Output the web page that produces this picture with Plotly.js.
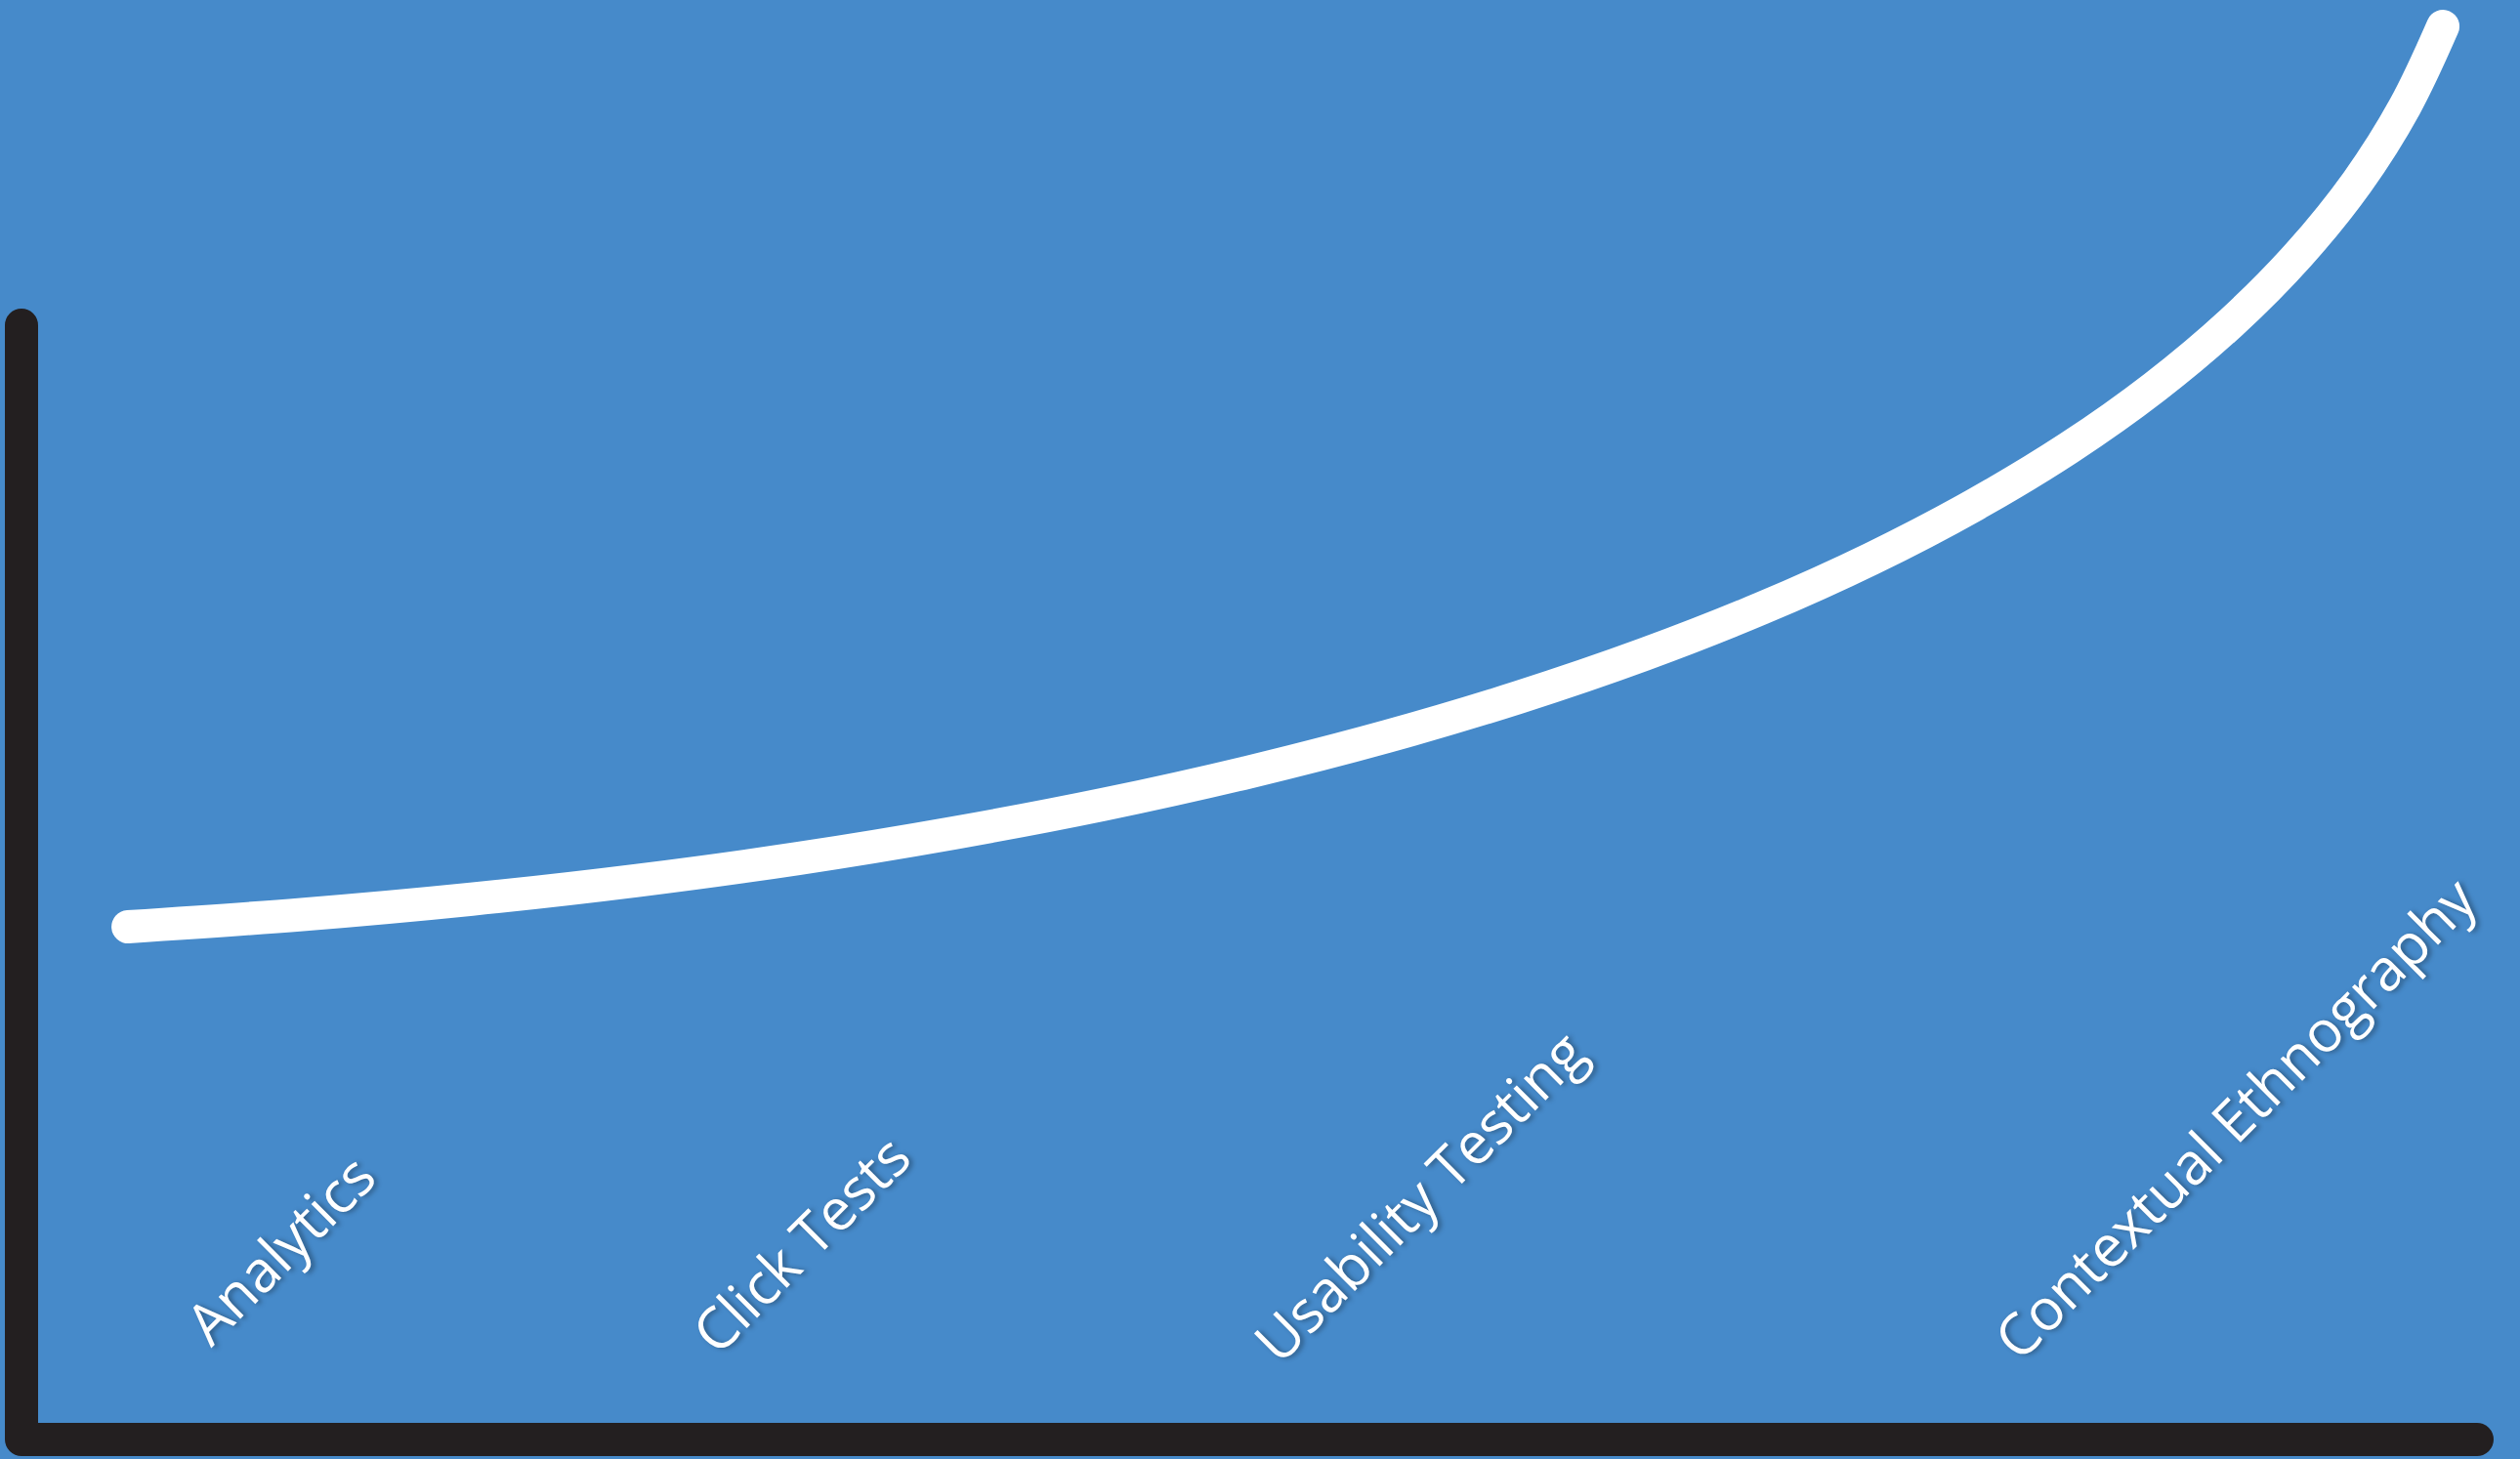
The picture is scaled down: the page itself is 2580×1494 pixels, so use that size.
<!DOCTYPE html>
<html>
<head>
<meta charset="utf-8">
<script src="https://cdn.plot.ly/plotly-3.0.1.min.js"></script>
<style>
  html, body { margin: 0; padding: 0; background: #468ACA; }
  #chart { width: 2580px; height: 1494px; }
  .js-line { stroke-linecap: round; stroke-linejoin: round; }
</style>
</head>
<body>
<div id="chart"></div>
<script>
// Method categories (x-axis labels)
const categories = ["Analytics", "Click Tests", "Usability Testing", "Contextual Ethnography"];
// Label centre positions along the axes (0-100 scale)
const labelX = [10.5, 31.7, 56.9, 90.1];
const labelY = [17.2, 17.6, 21.9, 28.9];

// Curve (0-100 axis scale, y may exceed 100)
const curveX = [4.34, 11.42, 18.33, 25.08, 31.62, 37.96, 44.08, 49.96, 55.60, 60.97, 66.06,
                70.86, 75.35, 79.53, 83.37, 86.87, 90.00, 92.75, 95.12, 97.07, 98.61];
const curveY = [46.01, 47.11, 48.49, 50.17, 52.14, 54.43, 57.00, 59.89, 63.09, 66.61, 70.44,
                74.59, 79.06, 83.87, 88.98, 94.45, 100.25, 106.37, 112.84, 119.66, 126.82];

// Axis frame (extent of the drawn axes, 0-100 scale)
const axisX = [0, 0, 100];
const axisY = [100, 0, 0];

const BG = "#468ACA";
const AXIS = "#231F20";

const traces = [
  {
    x: axisX, y: axisY, type: "scatter", mode: "lines",
    line: { color: AXIS, width: 34 },
    hoverinfo: "skip", showlegend: false
  },
  {
    x: curveX, y: curveY, type: "scatter", mode: "lines",
    line: { color: "#FFFFFF", width: 34, shape: "spline", smoothing: 1 },
    hoverinfo: "skip", showlegend: false
  }
];

const annotations = categories.map((c, i) => ({
  x: labelX[i], y: labelY[i], xref: "x", yref: "y",
  text: c, showarrow: false, textangle: -45,
  xanchor: "center", yanchor: "middle",
  font: { family: "Open Sans, Noto Sans, sans-serif", size: 59, color: "#FFFFFF",
          shadow: "2px 3px 5px rgba(0,0,0,0.35)" }
}));

const axisCommon = { showgrid: false, zeroline: false, showticklabels: false,
                     showline: false, ticks: "", fixedrange: true };

const layout = {
  width: 2580, height: 1494,
  margin: { l: 0, r: 0, t: 0, b: 0, pad: 0 },
  paper_bgcolor: BG, plot_bgcolor: BG,
  xaxis: Object.assign({ range: [-0.875, 101.75] }, axisCommon),
  yaxis: Object.assign({ range: [-1.753, 129.19] }, axisCommon),
  annotations: annotations,
  hovermode: false,
  showlegend: false
};

Plotly.newPlot("chart", traces, layout, { displayModeBar: false, staticPlot: true });
</script>
</body>
</html>
